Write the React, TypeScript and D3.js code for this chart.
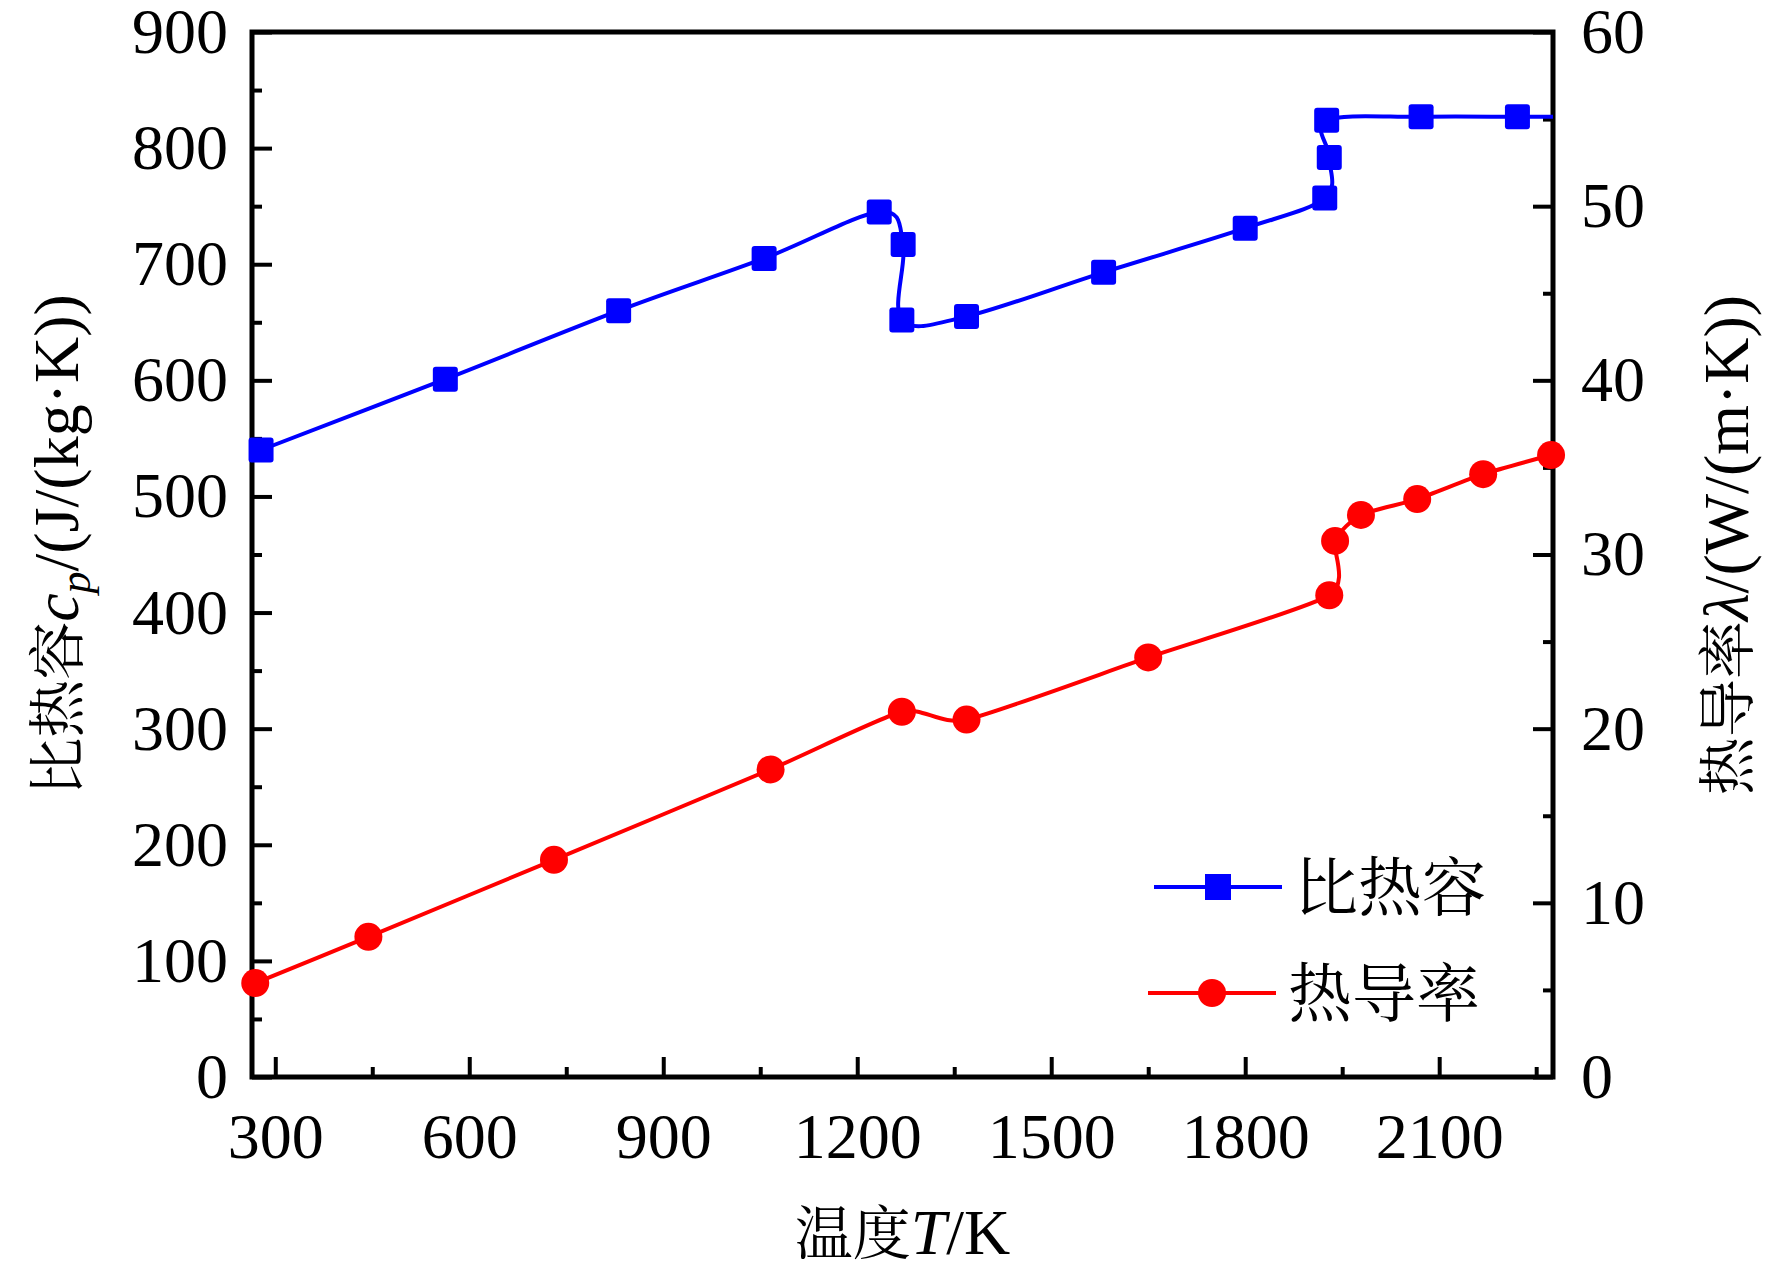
import React, { useEffect, useRef } from 'react';
import * as d3 from 'd3';

// 比热容 (left axis, J/(kg·K))
const cpTemps: number[] = [278, 563, 831, 1056, 1234, 1271, 1269, 1369, 1581, 1800, 1923, 1930, 1926, 2072, 2221, 2300];
const cpValues: number[] = [540, 601, 660, 705, 745, 717, 652, 655, 693, 731, 757, 792, 824, 827, 827, 827];

// 热导率 (right axis, W/(m·K))
const lambdaTemps: number[] = [269, 444, 731, 1066, 1269, 1369, 1650, 1930, 1939, 1979, 2066, 2168, 2273];
const lambdaValues: number[] = [5.39, 8.05, 12.47, 17.66, 20.97, 20.52, 24.09, 27.66, 30.78, 32.27, 33.18, 34.61, 35.71];

const xTicks: number[] = [300, 600, 900, 1200, 1500, 1800, 2100];
const leftTicks: number[] = [0, 100, 200, 300, 400, 500, 600, 700, 800, 900];
const rightTicks: number[] = [0, 10, 20, 30, 40, 50, 60];

const legendLabels: string[] = ['比热容', '热导率'];

const App: React.FC = () => {
  const ref = useRef<SVGSVGElement | null>(null);

  useEffect(() => {
    if (!ref.current) return;
    const W = 1772;
    const H = 1274;
    const margin = { top: 32, right: 219, bottom: 197, left: 252 };
    const width = W - margin.left - margin.right;
    const height = H - margin.top - margin.bottom;
    const font = '"Liberation Serif", "Times New Roman", serif';
    const cjk = '"Noto Serif CJK SC", "Noto Sans CJK SC", sans-serif';
    const fs = 64;

    const svg = d3.select(ref.current);
    svg.selectAll('*').remove();
    svg.attr('width', W).attr('height', H);

    const chart = svg.append('g').attr('transform', `translate(${margin.left},${margin.top})`);

    const x = d3.scaleLinear().domain([264, 2276]).range([0, width]);
    const yL = d3.scaleLinear().domain([0, 900]).range([height, 0]);
    const yR = d3.scaleLinear().domain([0, 60]).range([height, 0]);

    // clip for lines
    svg.append('defs').append('clipPath').attr('id', 'plot-clip')
      .append('rect').attr('width', width).attr('height', height);

    const styleAxis = (g: d3.Selection<SVGGElement, unknown, null, undefined>) => {
      g.select('.domain').remove();
      g.selectAll('line').attr('stroke', '#000').attr('stroke-width', 4);
      g.selectAll('text')
        .attr('font-family', font)
        .attr('font-size', fs)
        .attr('fill', '#000');
    };

    // bottom axis
    const xMinor = d3.range(150, 2276, 150).filter((t) => t >= 264 && !xTicks.includes(t));
    chart.append('g').attr('transform', `translate(0,${height})`)
      .call(d3.axisBottom(x).tickValues(xMinor).tickSize(-10).tickFormat(() => ''))
      .call(styleAxis);
    const gx = chart.append('g').attr('transform', `translate(0,${height})`)
      .call(d3.axisBottom(x).tickValues(xTicks).tickSize(-20).tickPadding(0).tickFormat(d3.format('d')))
      .call(styleAxis);
    gx.selectAll('text').attr('y', 81).attr('dy', null);

    // left axis
    const leftMinor = d3.range(50, 900, 100);
    chart.append('g')
      .call(d3.axisLeft(yL).tickValues(leftMinor).tickSize(-10).tickFormat(() => ''))
      .call(styleAxis);
    chart.append('g')
      .call(d3.axisLeft(yL).tickValues(leftTicks).tickSize(-20).tickPadding(24).tickFormat(d3.format('d')))
      .call(styleAxis);

    // right axis
    const rightMinor = d3.range(5, 60, 10);
    chart.append('g').attr('transform', `translate(${width},0)`)
      .call(d3.axisRight(yR).tickValues(rightMinor).tickSize(-10).tickFormat(() => ''))
      .call(styleAxis);
    chart.append('g').attr('transform', `translate(${width},0)`)
      .call(d3.axisRight(yR).tickValues(rightTicks).tickSize(-20).tickPadding(28).tickFormat(d3.format('d')))
      .call(styleAxis);

    // frame
    chart.append('rect')
      .attr('width', width).attr('height', height)
      .attr('fill', 'none').attr('stroke', '#000').attr('stroke-width', 5);

    const cpData = cpTemps.map((t, i) => [t, cpValues[i]] as [number, number]);
    const lamData = lambdaTemps.map((t, i) => [t, lambdaValues[i]] as [number, number]);

    const lineL = d3.line<[number, number]>()
      .x((d) => x(d[0])).y((d) => yL(d[1]))
      .curve(d3.curveCardinal.tension(0));
    const lineR = d3.line<[number, number]>()
      .x((d) => x(d[0])).y((d) => yR(d[1]))
      .curve(d3.curveCardinal.tension(0.35));

    chart.append('path').datum(lamData)
      .attr('d', lineR).attr('fill', 'none').attr('stroke', '#ff0000').attr('stroke-width', 4)
      .attr('clip-path', 'url(#plot-clip)');
    chart.append('path').datum(cpData)
      .attr('d', lineL).attr('fill', 'none').attr('stroke', '#0000ff').attr('stroke-width', 4)
      .attr('clip-path', 'url(#plot-clip)');

    const sq = 25;
    chart.selectAll('.sq').data(cpData.filter((d) => d[0] <= 2276)).enter()
      .append('rect')
      .attr('x', (d) => x(d[0]) - sq / 2).attr('y', (d) => yL(d[1]) - sq / 2)
      .attr('width', sq).attr('height', sq).attr('rx', 3)
      .attr('fill', '#0000ff');

    chart.selectAll('.dot').data(lamData).enter()
      .append('circle')
      .attr('cx', (d) => x(d[0])).attr('cy', (d) => yR(d[1]))
      .attr('r', 14).attr('fill', '#ff0000');

    // legend
    const legend = svg.append('g');
    const rows = [
      { label: legendLabels[0], color: '#0000ff', x0: 1154, y0: 887, shape: 'square' },
      { label: legendLabels[1], color: '#ff0000', x0: 1148, y0: 993, shape: 'circle' },
    ];
    rows.forEach((r) => {
      legend.append('line')
        .attr('x1', r.x0).attr('x2', r.x0 + 128).attr('y1', r.y0).attr('y2', r.y0)
        .attr('stroke', r.color).attr('stroke-width', 4);
      if (r.shape === 'square') {
        legend.append('rect')
          .attr('x', r.x0 + 64 - 13).attr('y', r.y0 - 13).attr('width', 26).attr('height', 26)
          .attr('fill', r.color);
      } else {
        legend.append('circle').attr('cx', r.x0 + 64).attr('cy', r.y0).attr('r', 14).attr('fill', r.color);
      }
      legend.append('text')
        .attr('x', r.x0 + 140).attr('y', r.y0).attr('dy', '0.36em')
        .attr('font-family', cjk).attr('font-size', 64)
        .attr('fill', '#000').text(r.label);
    });

    // axis titles
    const xt = svg.append('text')
      .attr('x', margin.left + width / 2).attr('y', 1254)
      .attr('text-anchor', 'middle').attr('font-family', font).attr('font-size', fs);
    xt.append('tspan').attr('font-family', cjk).attr('font-size', 58).text('温度');
    xt.append('tspan').attr('font-style', 'italic').text('T');
    xt.append('tspan').text('/K');

    const lt = svg.append('text')
      .attr('transform', `translate(78,545) rotate(-90)`)
      .attr('text-anchor', 'middle').attr('font-family', font).attr('font-size', fs);
    lt.append('tspan').attr('font-family', cjk).attr('font-size', 58).text('比热容');
    lt.append('tspan').attr('font-style', 'italic').text('c');
    lt.append('tspan').attr('font-style', 'italic').attr('font-size', 44).attr('dy', 12).text('p');
    lt.append('tspan').attr('dy', -12).text('/(J/(kg·K))');

    const rt = svg.append('text')
      .attr('transform', `translate(1748,545) rotate(-90)`)
      .attr('text-anchor', 'middle').attr('font-family', font).attr('font-size', fs);
    rt.append('tspan').attr('font-family', cjk).attr('font-size', 58).text('热导率');
    rt.append('tspan').attr('font-style', 'italic').text('λ');
    rt.append('tspan').text('/(W/(m·K))');
  }, []);

  return (
    <svg
      ref={ref}
      style={{ position: 'absolute', left: 0, top: 0, background: '#fff' }}
    ></svg>
  );
};

export default App;
